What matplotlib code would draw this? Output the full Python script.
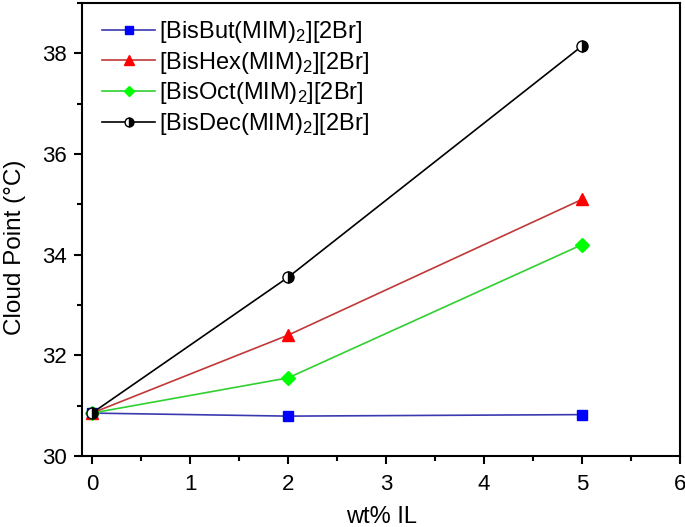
import matplotlib
matplotlib.use("Agg")
import matplotlib.pyplot as plt
from matplotlib.ticker import MultipleLocator

plt.rcParams['font.family'] = ['Liberation Sans', 'DejaVu Sans']
plt.rcParams['mathtext.fontset'] = 'custom'
plt.rcParams['mathtext.rm'] = 'Liberation Sans'

# data
wt = [0, 2, 5]
but = [30.85, 30.79, 30.82]
hexa = [30.85, 32.40, 35.10]
octa = [30.85, 31.55, 34.20]
dec = [30.85, 33.55, 38.15]

labels = [r"[BisBut(MIM)$\mathregular{_2}$][2Br]",
          r"[BisHex(MIM)$\mathregular{_2}$][2Br]",
          r"[BisOct(MIM)$\mathregular{_2}$][2Br]",
          r"[BisDec(MIM)$\mathregular{_2}$][2Br]"]

fig = plt.figure(figsize=(6.85, 5.27), dpi=100)
ax = fig.add_axes([0.12, 0.135, 0.873, 0.859])

ax.plot(wt, but, color="#3a3ab0", lw=1.2, marker="s", ms=7,
        mfc="#0000ff", mec="#0000ff", label=labels[0])
ax.plot(wt, hexa, color="#c03838", lw=1.2, marker="^", ms=9,
        mfc="#ff0000", mec="#ff0000", label=labels[1])
ax.plot(wt, octa, color="#30d030", lw=1.2, marker="D", ms=7,
        mfc="#00ff00", mec="#00ff00", label=labels[2])
ax.plot(wt, dec, color="black", lw=1.2, marker="o", ms=8,
        fillstyle="right", mfc="black", mfcalt="white", mec="black",
        label=labels[3])

ax.set_xlim(-0.1, 6)
ax.set_ylim(30, 39)
ax.xaxis.set_major_locator(MultipleLocator(1))
ax.xaxis.set_minor_locator(MultipleLocator(0.5))
ax.yaxis.set_major_locator(MultipleLocator(2))
ax.yaxis.set_minor_locator(MultipleLocator(1))
ax.tick_params(which="major", direction="out", length=6, width=1.5, labelsize=16)
ax.tick_params(axis="x", which="major", pad=7)
ax.tick_params(axis="y", which="major", pad=5)
ax.tick_params(which="minor", direction="out", length=3.5, width=1.5)
for s in ax.spines.values():
    s.set_linewidth(1.5)

ax.set_xlabel("wt% IL", fontsize=17, labelpad=8)
ax.set_ylabel("Cloud Point (\u00b0C)", fontsize=17.5, labelpad=12)
ax.yaxis.label.set_y(0.46)

ax.legend(loc="upper left", bbox_to_anchor=(20 / 598, 0.965), frameon=False,
          fontsize=17, handlelength=2.25, handletextpad=0.15,
          labelspacing=0.2, borderaxespad=0, borderpad=0, markerscale=0.8)

plt.savefig("out.png")
